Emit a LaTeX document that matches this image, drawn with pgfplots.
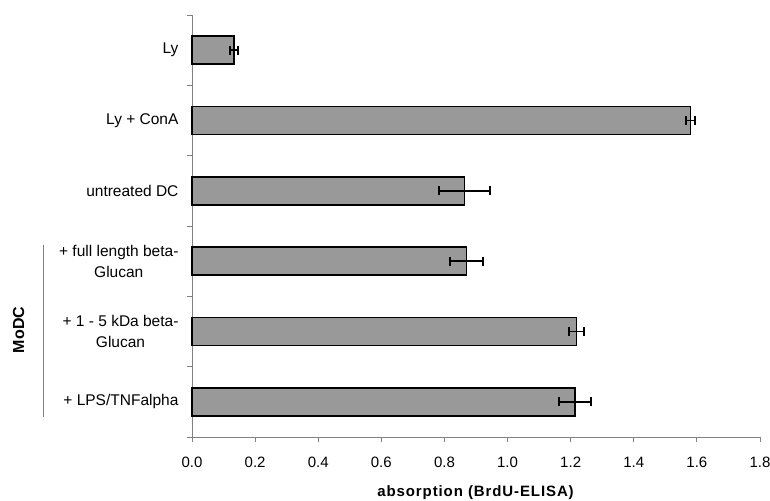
\documentclass[border=0pt]{standalone}
\usepackage{pgfplots}
\pgfplotsset{compat=1.18}
\usepackage{fontspec}
\setmainfont{Liberation Sans}
\definecolor{axgray}{HTML}{808080}
\definecolor{barfill}{HTML}{999999}
\begin{document}
\begin{tikzpicture}[x=1pt,y=1pt]
\useasboundingbox (-192,-63) rectangle (578,437);
\begin{axis}[
  at={(0,0)}, anchor=south west,
  scale only axis, width=568pt, height=422pt,
  xmin=0, xmax=1.8, ymin=-0.5, ymax=5.5, y dir=reverse,
  axis lines=left, axis line style={-, draw=axgray, line width=0.8pt},
  xtick={0,0.2,0.4,0.6,0.8,1.0,1.2,1.4,1.6,1.8},
  xticklabel style={/pgf/number format/fixed, /pgf/number format/fixed zerofill, /pgf/number format/precision=1, /pgf/number format/assume math mode=true, font=\fontsize{15}{18}\selectfont, anchor=center, yshift=-20pt},
  xtick style={draw=axgray, line width=0.8pt},
  tick align=outside, major tick length=5pt,
  ytick={0,1,2,3,4,5},
  yticklabels={Ly, Ly + ConA, untreated DC, {+ full length beta-\\Glucan}, {+ 1 - 5 kDa beta-\\Glucan}, + LPS/TNFalpha},
  y tick style={draw=none},
  yticklabel style={align=center, font=\fontsize{15.5}{21}\selectfont, anchor=east, xshift=-5pt},
  extra y ticks={-0.5,0.5,1.5,2.5,3.5,4.5,5.5},
  extra y tick labels={},
  extra y tick style={y tick style={draw=axgray, line width=0.8pt}, major tick length=5pt},
  xlabel={\textbf{\addfontfeature{LetterSpace=6}absorption (BrdU-ELISA)}},
  xlabel style={font=\fontsize{15}{18}\selectfont, at={(rel axis cs:0.5,0)}, anchor=center, yshift=-56pt},
  clip=false,
]
\addplot[xbar, bar width=28pt, fill=barfill, draw=black, line width=1.6pt,
  error bars/.cd, x dir=both, x explicit, error mark=|,
  error bar style={line width=1.6pt, black},
  error mark options={line width=2pt, mark size=4.5pt, black, solid}]
coordinates {
  (0.133,0) +- (0.014,0)
  (1.580,1) +- (0.013,0)
  (0.863,2) +- (0.081,0)
  (0.870,3) +- (0.051,0)
  (1.218,4) +- (0.024,0)
  (1.214,5) +- (0.052,0)
};
\end{axis}
\draw[axgray, line width=0.8pt] (-149,20) -- (-149,192);
\node[rotate=90, font=\bfseries\fontsize{16}{18}\selectfont] at (-173.5,107) {MoDC};
\end{tikzpicture}
\end{document}
